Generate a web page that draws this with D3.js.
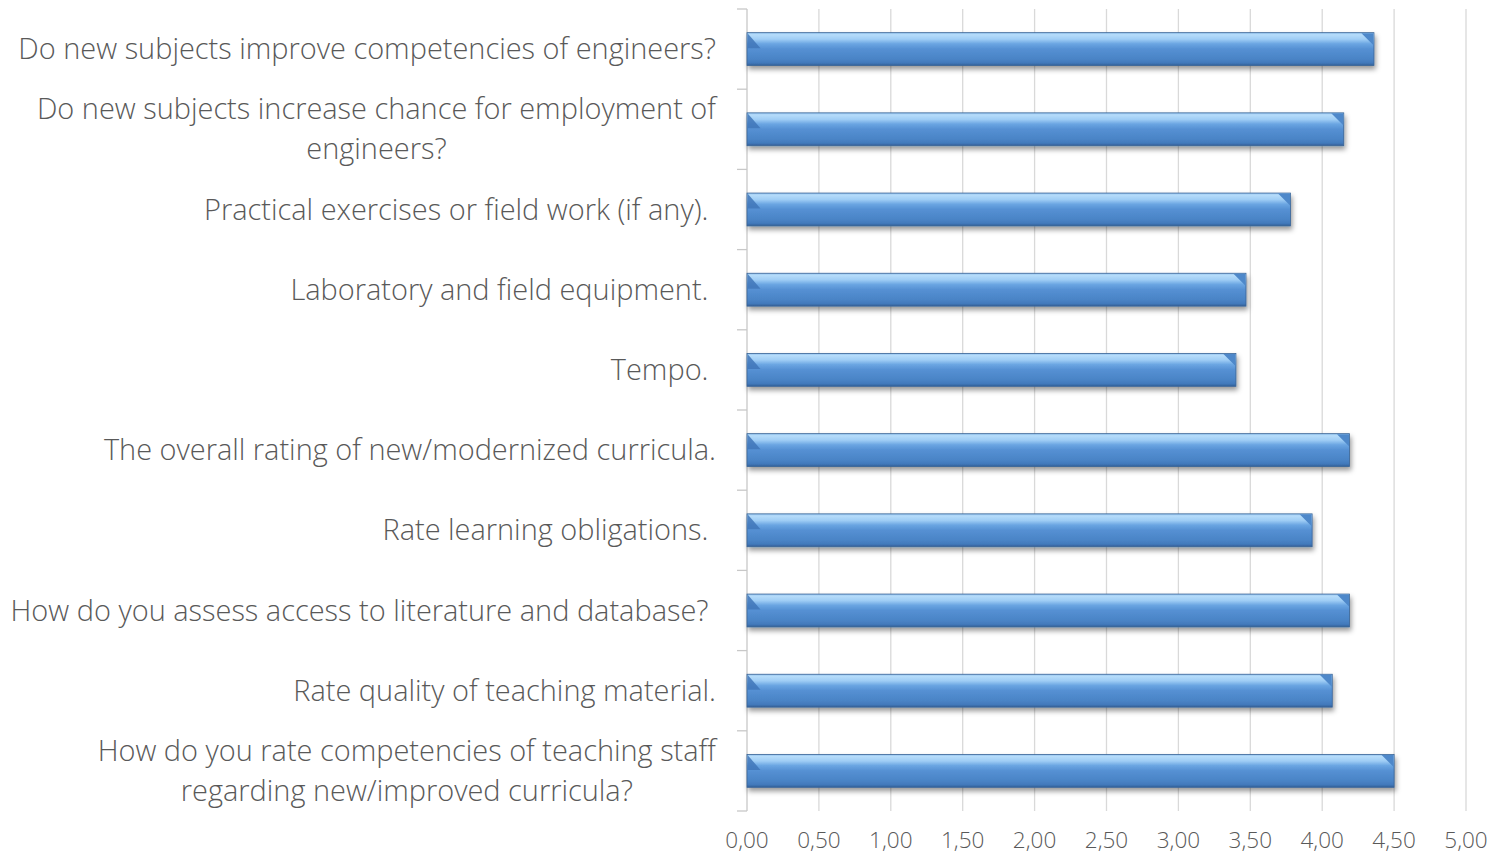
<!DOCTYPE html>
<html>
<head>
<meta charset="utf-8">
<script src="https://cdn.jsdelivr.net/npm/d3@7"></script>
<style>
  body { margin: 0; background: #fff; }
  svg { display: block; }
  text { font-family: "Open Sans", "Liberation Sans", sans-serif; font-weight: 300; fill: #595959; }
</style>
</head>
<body>
<svg id="chart" width="1494" height="855"></svg>
<script>
// data, top to bottom
const categories = [
  ["Do new subjects improve competencies of engineers?"],
  ["Do new subjects increase chance for employment of", "engineers?"],
  ["Practical exercises or field work (if any). "],
  ["Laboratory and field equipment. "],
  ["Tempo. "],
  ["The overall rating of new/modernized curricula."],
  ["Rate learning obligations. "],
  ["How do you assess access to literature and database? "],
  ["Rate quality of teaching material."],
  ["How do you rate competencies of teaching staff", "regarding new/improved curricula?"]
];
const values = [4.36, 4.15, 3.78, 3.47, 3.40, 4.19, 3.93, 4.19, 4.07, 4.50];
const xTicks = [0, 0.5, 1, 1.5, 2, 2.5, 3, 3.5, 4, 4.5, 5];

const svg = d3.select('#chart');
const width = 1494;
const height = 855;
const margin = { top: 9, right: 28, bottom: 44, left: 747 };

const x = d3.scaleLinear()
    .domain([0, 5])
    .range([margin.left, width - margin.right]);

const ids = categories.map((d, i) => i);
const y = d3.scaleBand()
    .domain(ids)
    .range([margin.top, height - margin.bottom])
    .paddingInner(0.59)
    .paddingOuter(0.295);

const step = y.step();
const y0 = y.range()[0];
const y1 = y.range()[1];

// defs: gradient + shadow
const defs = svg.append('defs');
const grad = defs.append('linearGradient')
    .attr('id', 'barGrad')
    .attr('x1', 0).attr('y1', 0).attr('x2', 0).attr('y2', 1);
[
  [0, '#8fc0ee'], [0.06, '#b6dcfa'], [0.2, '#9fcdf5'], [0.34, '#6aa5e2'],
  [0.5, '#5590d3'], [0.8, '#4a84c6'], [0.92, '#4279bb'], [1, '#325f96']
].forEach(([o, c]) => grad.append('stop').attr('offset', o).attr('stop-color', c));

const shadow = defs.append('filter')
    .attr('id', 'shadow')
    .attr('x', '-5%').attr('y', '-40%').attr('width', '110%').attr('height', '200%');
shadow.append('feDropShadow')
    .attr('dx', 1.5).attr('dy', 3.5)
    .attr('stdDeviation', 2.5)
    .attr('flood-color', '#000')
    .attr('flood-opacity', 0.4);

// gridlines
svg.append('g')
    .selectAll('line')
    .data(xTicks.slice(1))
    .join('line')
    .attr('x1', (d) => x(d)).attr('x2', (d) => x(d))
    .attr('y1', y0).attr('y2', y1)
    .attr('stroke', '#d9d9d9')
    .attr('stroke-width', 1.3);

// left axis line with ticks at band boundaries
const axisG = svg.append('g');
axisG.append('line')
    .attr('x1', x(0)).attr('x2', x(0))
    .attr('y1', y0).attr('y2', y1)
    .attr('stroke', '#c8c8c8')
    .attr('stroke-width', 1.3);
axisG.selectAll('line.tick')
    .data(d3.range(categories.length + 1))
    .join('line')
    .attr('class', 'tick')
    .attr('x1', x(0) - 10).attr('x2', x(0))
    .attr('y1', (i) => y0 + i * step).attr('y2', (i) => y0 + i * step)
    .attr('stroke', '#c8c8c8')
    .attr('stroke-width', 1.3);

// bars with bevel corners
const bars = svg.append('g')
    .selectAll('g')
    .data(values.map((v, i) => ({ v, i })))
    .join('g');

bars.append('rect')
    .attr('x', x(0))
    .attr('y', (d) => y(d.i))
    .attr('width', (d) => x(d.v) - x(0))
    .attr('height', y.bandwidth())
    .attr('fill', 'url(#barGrad)')
    .attr('stroke', '#3a6496')
    .attr('stroke-width', 0.8)
    .attr('filter', 'url(#shadow)');

// right corner face
bars.append('path')
    .attr('d', (d) => {
        const xr = x(d.v) - 0.5, yt = y(d.i) + 0.5;
        return `M${xr - 12},${yt} L${xr},${yt} L${xr},${yt + 12} Z`;
    })
    .attr('fill', '#4e88ca');

// left corner face
bars.append('path')
    .attr('d', (d) => {
        const xl = x(0) + 0.5, yt = y(d.i) + 0.5;
        return `M${xl},${yt} L${xl + 13},${yt + 15} L${xl},${yt + 15} Z`;
    })
    .attr('fill', '#3f76b8')
    .attr('opacity', 0.85);

// category labels
const labelRight = x(0) - 31;
const lineH = 40;
const labels = svg.append('g')
    .selectAll('g')
    .data(categories.map((lines, i) => ({ lines, i })))
    .join('g');

labels.each(function (d) {
    const g = d3.select(this);
    const cy = y(d.i) + y.bandwidth() / 2;
    const n = d.lines.length;
    d.lines.forEach((t, k) => {
        g.append('text')
            .attr('y', cy + (k - (n - 1) / 2) * lineH)
            .attr('dy', '0.35em')
            .attr('font-size', 26)
            .style('white-space', 'pre')
            .text(t);
    });
});

// fit font size to the reference width of the first label
const probe = labels.select('text').node();
const fs = 26 * 698 / probe.getComputedTextLength();
labels.selectAll('text').attr('font-size', fs);

labels.each(function () {
    const texts = d3.select(this).selectAll('text');
    const w = d3.max(texts.nodes(), (n) => n.getComputedTextLength());
    texts.attr('text-anchor', 'middle').attr('x', labelRight - w / 2);
});

// x tick labels
svg.append('g')
    .selectAll('text')
    .data(xTicks)
    .join('text')
    .attr('x', (d) => x(d))
    .attr('y', 840)
    .attr('dy', '0.35em')
    .attr('text-anchor', 'middle')
    .attr('font-size', fs * 0.78)
    .text((d) => d3.format('.2f')(d).replace('.', ','));
</script>
</body>
</html>
